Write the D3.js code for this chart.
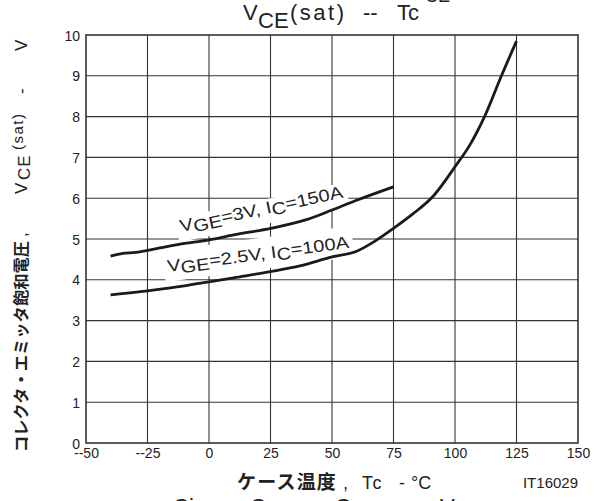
<!DOCTYPE html>
<html>
<head>
<meta charset="utf-8">
<script src="https://cdn.jsdelivr.net/npm/d3@7"></script>
<style>
body{margin:0;background:#fff;}
text{font-family:"Liberation Sans",Arial,Helvetica,sans-serif;fill:#222;}
.jp{font-family:"Noto Sans CJK JP",sans-serif;font-weight:bold;}
</style>
</head>
<body>
<script>
// VGE=3V, IC=150A
var tempHigh=[-40,-35,-30,-20,-10,0,10,25,40,50,60,75];
var vceHigh=[4.58,4.65,4.67,4.78,4.89,4.98,5.1,5.26,5.48,5.71,5.95,6.28];
// VGE=2.5V, IC=100A
var tempLow=[-40,-25,-10,0,10,25,37,50,60,67,75,83,91,100,106,112,119,125];
var vceLow=[3.63,3.73,3.85,3.95,4.05,4.2,4.34,4.56,4.7,4.93,5.26,5.62,6.04,6.77,7.3,8.0,9.02,9.85];
var xTicks=[-50,-25,0,25,50,75,100,125,150];
var yTicks=[0,1,2,3,4,5,6,7,8,9,10];

var width=600,height=501;
var plotLeft=86,plotRight=578,plotTop=35,plotBottom=443;

var svg=d3.select('body').append('svg')
.attr('width',width)
.attr('height',height);

var x=d3.scaleLinear().domain([-50,150]).range([plotLeft,plotRight]);
var y=d3.scaleLinear().domain([0,10]).range([plotBottom,plotTop]);

// grid
var grid=svg.append('g').attr('stroke','#333').attr('stroke-width',1.1);
grid.selectAll('line.v')
.data(xTicks.slice(1,-1))
.enter().append('line')
.attr('class','v')
.attr('x1',d=>x(d)).attr('x2',d=>x(d))
.attr('y1',plotTop).attr('y2',plotBottom);
grid.selectAll('line.h')
.data(yTicks.slice(1,-1))
.enter().append('line')
.attr('class','h')
.attr('x1',plotLeft).attr('x2',plotRight)
.attr('y1',d=>y(d)).attr('y2',d=>y(d));

// axes labels via d3 axes
var xAxis=svg.append('g')
.attr('transform','translate(0,'+plotBottom+')')
.call(d3.axisBottom(x).tickValues(xTicks).tickSize(0)
  .tickFormat(d=>d<0?'--'+Math.abs(d):d));
xAxis.select('.domain').remove();
xAxis.selectAll('text')
.attr('y',15).attr('dy',0)
.style('font-size','14px')
.style('font-family','"Liberation Sans",Arial,sans-serif')
.attr('fill','#222');

var yAxis=svg.append('g')
.attr('transform','translate('+plotLeft+',0)')
.call(d3.axisLeft(y).tickValues(yTicks).tickSize(0).tickPadding(6));
yAxis.select('.domain').remove();
yAxis.selectAll('text')
.attr('dy','0.36em')
.style('font-size','14px')
.style('font-family','"Liberation Sans",Arial,sans-serif')
.attr('fill','#222');

// curve labels with white boxes
function curveLabel(t,v,angle,padTop,padBottom,parts){
  var g=svg.append('g')
  .attr('transform','translate('+x(t)+','+y(v)+') rotate('+angle+') scale(1.18,1)');
  var bg=g.append('rect').attr('fill','#fff');
  var txt=g.append('text').style('font-size','17px');
  parts.forEach(function(p){
    txt.append('tspan').attr('dy',p[1]).text(p[0]);
  });
  var b=txt.node().getBBox();
  bg.attr('x',b.x-3).attr('y',b.y+2-padTop)
  .attr('width',b.width+6).attr('height',b.height-2+padTop+padBottom);
}
curveLabel(-11.4,5.17,-12,1,3,[['V',0],['GE',3],['=3V, I',-3],['C',3],['=150A',-3]]);
curveLabel(-16.7,4.19,-7.6,8,3,[['V',0],['GE',3],['=2.5V, I',-3],['C',3],['=100A',-3]]);

// frame
svg.append('rect')
.attr('x',plotLeft).attr('y',plotTop)
.attr('width',plotRight-plotLeft).attr('height',plotBottom-plotTop)
.attr('fill','none').attr('stroke','#333').attr('stroke-width',1.6);

// curves
var line=d3.line()
.x(d=>x(d[0])).y(d=>y(d[1]))
.curve(d3.curveMonotoneX);
[[tempHigh,vceHigh],[tempLow,vceLow]].forEach(function(s){
  svg.append('path')
  .datum(d3.zip(s[0],s[1]))
  .attr('d',line)
  .attr('fill','none')
  .attr('stroke','#1a1a1a')
  .attr('stroke-width',2.8)
  .attr('stroke-linejoin','round');
});

// title
var title=svg.append('text').style('font-size','22px').attr('y',20);
title.append('tspan').attr('x',243).text('V');
title.append('tspan').attr('x',258).attr('dy',8).text('CE');
title.append('tspan').attr('x',290).attr('dy',-8).style('letter-spacing','2.5px').text('(sat)');
title.append('tspan').attr('x',363).text('--');
title.append('tspan').attr('x',397).text('Tc');
// cut-off pieces of neighbouring charts
svg.append('text').attr('x',425).attr('y',2).style('font-size','18px').text('CE');
var next=svg.append('text').style('font-size','22px').attr('y',514);
next.append('tspan').attr('x',173).text('Ciss,');
next.append('tspan').attr('x',250).text('Coss,');
next.append('tspan').attr('x',335).text('Crss');
next.append('tspan').attr('x',405).text('--');
next.append('tspan').attr('x',440).text('V');

// x label
var xl=svg.append('text').attr('y',489);
xl.append('tspan').attr('class','jp').attr('x',237).style('font-size','19px').style('letter-spacing','1.2px').text('ケース温度');
xl.append('tspan').attr('x',343).style('font-size','18px').text(',');
xl.append('tspan').attr('x',362).style('font-size','18px').style('letter-spacing','1.5px').text('Tc');
xl.append('tspan').attr('x',399).style('font-size','18px').text('-');
xl.append('tspan').attr('x',411).style('font-size','18px').text('°C');

svg.append('text')
.attr('x',578).attr('y',488)
.attr('text-anchor','end')
.style('font-size','15px')
.text('IT16029');

// y label
var yl=svg.append('text').attr('transform','translate(27,0) rotate(-90)');
yl.append('tspan').attr('class','jp').attr('x',-452).style('font-size','16.3px').text('コレクタ・エミッタ飽和電圧');
yl.append('tspan').attr('x',-237).style('font-size','17px').text(',');
yl.append('tspan').attr('x',-194).style('font-size','17px').text('V');
yl.append('tspan').attr('x',-180).attr('dy',3).style('font-size','17px').style('letter-spacing','1px').text('CE');
yl.append('tspan').attr('x',-150).attr('dy',-7).style('font-size','15px').style('letter-spacing','1.5px').text('(sat)');
yl.append('tspan').attr('x',-94).attr('dy',4).style('font-size','17px').text('-');
yl.append('tspan').attr('x',-51).style('font-size','17px').text('V');
</script>
</body>
</html>
